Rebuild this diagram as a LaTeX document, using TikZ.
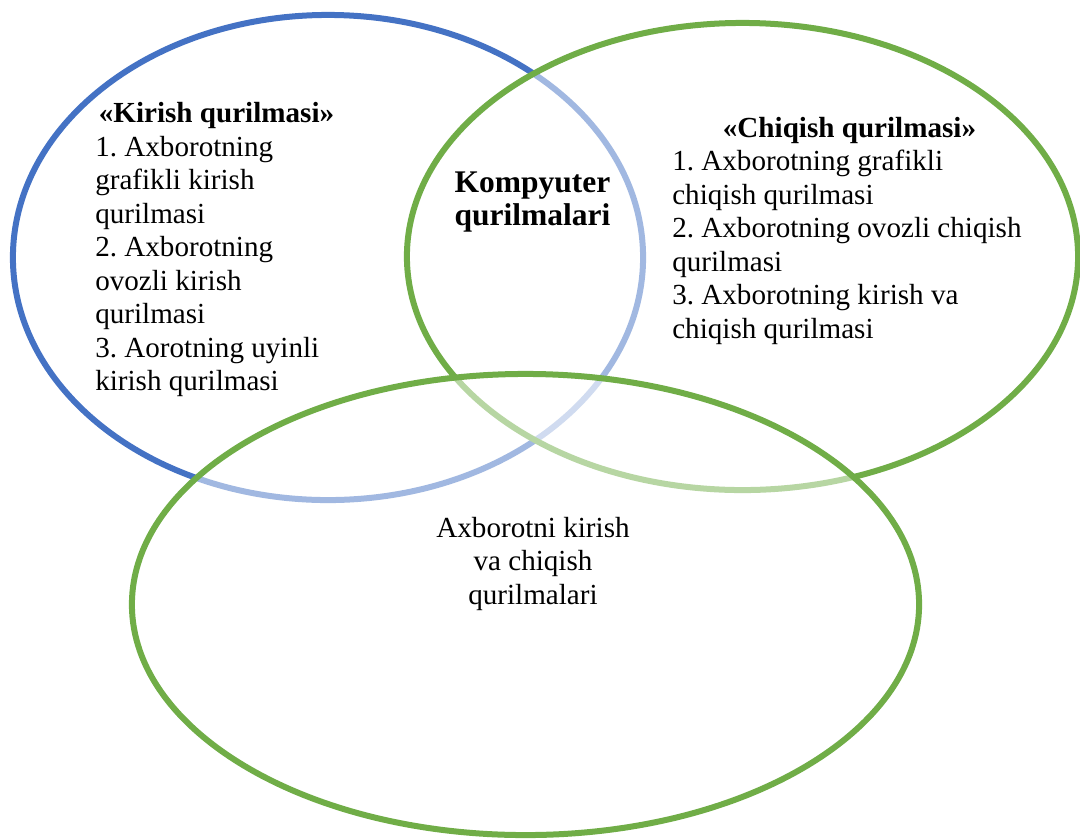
\documentclass[tikz,border=0pt]{standalone}
\usepackage{fontspec}
\setmainfont{Liberation Serif}
\frenchspacing
\usetikzlibrary{positioning}
\definecolor{setblue}{HTML}{4472C4}
\definecolor{setgreen}{HTML}{70AD47}
\begin{document}
\begin{tikzpicture}[x=0.025cm, y=-0.025cm,
    set/.style={line width=0.15cm},
    veil/.style={fill=white, fill opacity=0.5},
    label/.style={inner sep=0pt, font=\fontsize{20.7}{23.8}\selectfont},
    title/.style={label, font=\fontsize{20.7}{23.8}\selectfont\bfseries}]

  % frame of the page
  \useasboundingbox (0, 0) rectangle (1080, 838);

  % common coordinates
  \coordinate (inC)  at (328, 257.5);
  \coordinate (outC) at (742.5, 256.5);
  \coordinate (ioC)  at (525.5, 604.5);

  % the three sets
  \draw [set, draw=setblue] (inC) ellipse [x radius=7.875cm, y radius=6.0625cm];
  \path [set, veil, draw=setgreen] (outC) ellipse [x radius=8.3875cm, y radius=5.8375cm];
  \path [set, veil, draw=setgreen] (ioC) ellipse [x radius=9.8375cm, y radius=5.7625cm];

  % input devices
  \node (inTitle) at (216.5, 122) [title, anchor=base] {«Kirish qurilmasi»};
  \node (inList) at (95, 136) [label, anchor=north west, align=left]
    {1. Axborotning\\grafikli kirish\\qurilmasi\\2. Axborotning\\ovozli kirish\\qurilmasi\\3. Aorotning uyinli\\kirish qurilmasi};

  % output devices
  \node (outTitle) at (849.5, 137) [title, anchor=base] {«Chiqish qurilmasi»};
  \node (outList) at (672, 150) [label, anchor=north west, align=left]
    {1. Axborotning grafikli\\chiqish qurilmasi\\2. Axborotning ovozli chiqish\\qurilmasi\\3. Axborotning kirish va\\chiqish qurilmasi};

  % centre and lower set
  \node (core) at (532.5, 172) [title, anchor=north, align=center,
    font=\fontsize{22.4}{23.5}\selectfont\bfseries] {Kompyuter\\qurilmalari};
  \node (io) at (533, 517) [label, anchor=north, align=center] {Axborotni kirish\\va chiqish\\qurilmalari};

\end{tikzpicture}
\end{document}
